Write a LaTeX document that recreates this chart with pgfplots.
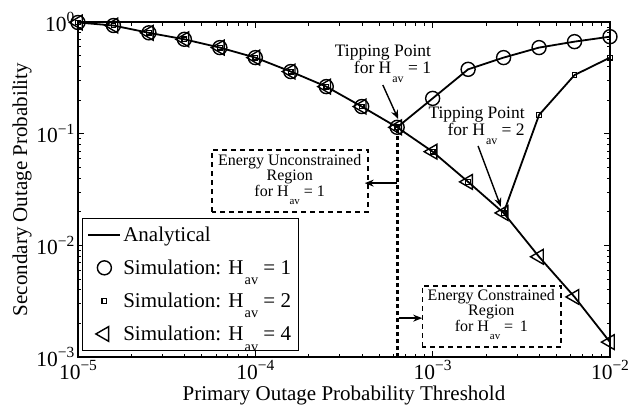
\documentclass[border=0pt]{standalone}
\usepackage{fontspec}
\setmainfont{Liberation Serif}
\usepackage{pgfplots}
\pgfplotsset{compat=1.18}
\usetikzlibrary{arrows.meta}

% H with the low "av" subscript
\newcommand{\Hav}{H\kern0.06em\raisebox{-0.5em}{\scalebox{0.68}{av}}}
% decade tick label in the text font
\newcommand{\tp}[1]{10\raisebox{0.85ex}{\scalebox{0.72}{#1}}}

\pgfplotsset{
  leg/.style={legend image code/.code={%
    \draw[mark repeat=2,mark phase=2,##1] plot coordinates {(0pt,0pt) (16pt,0pt) (32pt,0pt)};}},
}
\tikzset{
  boxline/.style={line width=1.2pt, dash pattern=on 5pt off 4pt},
  arr/.style={line width=1.4pt, -{Stealth[length=9pt,width=7pt]}},
}

\begin{document}
\begin{tikzpicture}
\begin{axis}[
  xmode=log, ymode=log,
  scale only axis, width=532pt, height=335pt,
  xmin=1e-5, xmax=1e-2, ymin=1e-3, ymax=1,
  xtick={1e-5,1e-4,1e-3,1e-2},
  xticklabels={\tp{\textminus 5},\tp{\textminus 4},\tp{\textminus 3},\tp{\textminus 2}},
  ytick={1e-3,1e-2,1e-1,1},
  yticklabels={\tp{\textminus 3},\tp{\textminus 2},\tp{\textminus 1},\tp{0}},
  tick align=inside,
  axis line style={line width=1.3pt},
  every tick/.style={black, line width=0.9pt},
  major tick length=6pt, minor tick length=3.5pt,
  font=\fontsize{21}{25}\selectfont,
  tick label style={font=\fontsize{21.5}{25}\selectfont},
  xlabel={Primary Outage Probability Threshold},
  ylabel={Secondary Outage Probability},
  ylabel style={yshift=-2pt},
  clip=false,
  legend cell align=left,
  legend style={at={(rel axis cs:0,0)}, anchor=south west, xshift=4pt, yshift=6pt,
    draw=black, line width=1pt, font=\fontsize{21}{25}\selectfont,
    row sep=13pt, inner xsep=5pt, inner ysep=6.5pt},
]
% analytical curves
\addplot[black, line width=1.8pt, leg] coordinates {
 (1e-5,0.99) (1.585e-5,0.93) (2.512e-5,0.80) (3.981e-5,0.70) (6.310e-5,0.59)
 (1e-4,0.48) (1.585e-4,0.36) (2.512e-4,0.264) (3.981e-4,0.175) (6.310e-4,0.114)
 (1e-3,0.069) (1.585e-3,0.037) (2.512e-3,0.0195) (3.981e-3,0.0079) (6.310e-3,0.00345)
 (1e-2,0.00136)};
\addlegendentry{Analytical}
\addplot[black, line width=1.8pt, forget plot] coordinates {
 (6.310e-4,0.114) (1e-3,0.207) (1.585e-3,0.377) (2.512e-3,0.48) (3.981e-3,0.59)
 (6.310e-3,0.667) (1e-2,0.739)};
\addplot[black, line width=1.8pt, forget plot] coordinates {
 (2.512e-3,0.0195) (3.981e-3,0.147) (6.310e-3,0.335) (1e-2,0.48)};
% simulation, H_av = 1
\addplot[black, only marks, mark=o, mark size=7pt, mark options={line width=1.4pt}, leg] coordinates {
 (1e-5,0.99) (1.585e-5,0.93) (2.512e-5,0.80) (3.981e-5,0.70) (6.310e-5,0.59)
 (1e-4,0.48) (1.585e-4,0.36) (2.512e-4,0.264) (3.981e-4,0.175) (6.310e-4,0.114)
 (1e-3,0.207) (1.585e-3,0.377) (2.512e-3,0.48) (3.981e-3,0.59) (6.310e-3,0.667)
 (1e-2,0.739)};
\addlegendentry{Simulation: \Hav{} = 1}
% simulation, H_av = 2
\addplot[black, only marks, mark=square, mark size=2.3pt, mark options={line width=1.3pt}, leg] coordinates {
 (1e-5,0.99) (1.585e-5,0.93) (2.512e-5,0.80) (3.981e-5,0.70) (6.310e-5,0.59)
 (1e-4,0.48) (1.585e-4,0.36) (2.512e-4,0.264) (3.981e-4,0.175) (6.310e-4,0.114)
 (1e-3,0.069) (1.585e-3,0.037) (2.512e-3,0.0195) (3.981e-3,0.147) (6.310e-3,0.335)
 (1e-2,0.48)};
\addlegendentry{Simulation: \Hav{} = 2}
% simulation, H_av = 4
\addplot[black, only marks, mark=triangle, mark size=8.5pt, mark options={rotate=90, line width=1.4pt}, leg] coordinates {
 (1e-5,0.99) (1.585e-5,0.93) (2.512e-5,0.80) (3.981e-5,0.70) (6.310e-5,0.59)
 (1e-4,0.48) (1.585e-4,0.36) (2.512e-4,0.264) (3.981e-4,0.175) (6.310e-4,0.114)
 (1e-3,0.069) (1.585e-3,0.037) (2.512e-3,0.0195) (3.981e-3,0.0079) (6.310e-3,0.00345)
 (1e-2,0.00136)};
\addlegendentry{Simulation: \Hav{} = 4}
% tipping threshold for H_av = 1
\addplot[black, line width=3.2pt, dash pattern=on 4pt off 3pt, forget plot] coordinates {
 (6.310e-4,1e-3) (6.310e-4,0.114)};

% region boxes
\draw[boxline] (rel axis cs:0.252,0.433) rectangle (rel axis cs:0.545,0.618);
\node[align=center, inner sep=0pt, font=\fontsize{16}{15.5}\selectfont]
  at (rel axis cs:0.398,0.530) {Energy Unconstrained\\Region\\for \Hav{} = 1};
\draw[arr] (rel axis cs:0.600,0.519) -- (rel axis cs:0.539,0.519);

\draw[boxline] (rel axis cs:0.647,0.030) rectangle (rel axis cs:0.908,0.212);
\node[align=center, inner sep=0pt, font=\fontsize{16}{15.5}\selectfont]
  at (rel axis cs:0.777,0.127) {Energy Constrained\\Region\\for \Hav{} =\, 1};
\draw[arr] (rel axis cs:0.603,0.116) -- (rel axis cs:0.647,0.116);

% tipping point labels
\node[anchor=north east, align=right, inner sep=0pt, font=\fontsize{17.5}{14}\selectfont]
  at (rel axis cs:0.664,0.932) {Tipping Point\\for \Hav{} = 1};
\draw[arr] (rel axis cs:0.573,0.812) -- (rel axis cs:0.602,0.710);
\node[anchor=north east, align=right, inner sep=0pt, font=\fontsize{17.5}{14}\selectfont]
  at (rel axis cs:0.840,0.747) {Tipping Point\\for \Hav{} = 2};
\draw[arr] (rel axis cs:0.752,0.630) -- (rel axis cs:0.795,0.448);
\end{axis}
\pgfresetboundingbox
\path (current axis.south west) ++(-78pt,-54pt) rectangle ++(639pt,411pt);
\end{tikzpicture}
\end{document}
